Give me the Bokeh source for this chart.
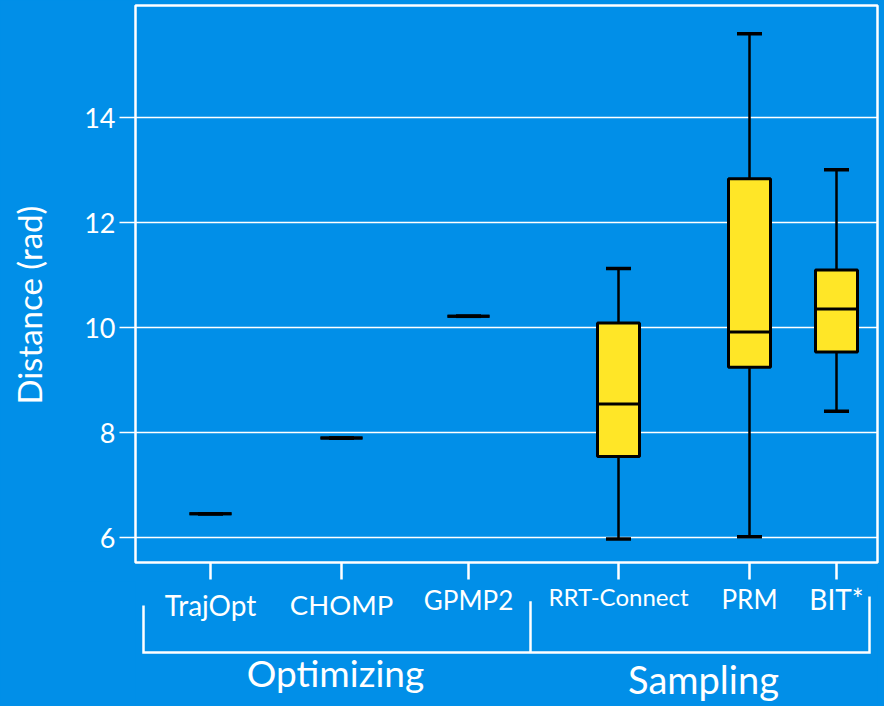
from bokeh.plotting import figure
from bokeh.layouts import column
from bokeh.models import Range1d, FixedTicker, ColumnDataSource
from bokeh.core.properties import value
from bokeh.embed import file_html
from bokeh.resources import INLINE

# ---- data ----
methods = ["TrajOpt", "CHOMP", "GPMP2", "RRT-Connect", "PRM", "BIT*"]
lower = [6.46, 7.90, 10.22, 5.98, 6.02, 8.41]
q1 = [6.46, 7.90, 10.22, 7.55, 9.25, 9.54]
median = [6.46, 7.90, 10.22, 8.55, 9.92, 10.36]
q3 = [6.46, 7.90, 10.22, 10.09, 12.84, 11.10]
upper = [6.46, 7.90, 10.22, 11.13, 15.60, 13.01]
groups = ["Optimizing", "Sampling"]
y_ticks = [6, 8, 10, 12, 14]
y_label = "Distance (rad)"

# ---- layout (positions / sizes, strip y in px from strip top) ----
xpos = [75, 206, 333, 483, 614, 701]
label_base = [23, 23, 18.5, 15, 17.5, 17]
label_size = ["28px", "27.5px", "26px", "24px", "26px", "28px"]
group_pos = [200, 568]
group_base = [91, 97.5]
group_size = ["37px", "38px"]
bracket_x = [8, 395, 734]
bracket_top = [24, 19.7, 15]
bracket_y = 71
box_w = 42
cap_w = 25

BG = "#018FE8"
YEL = "#FFE627"
FONT = "Lato"

xr = Range1d(0, 742)

p = figure(width=884, height=581, x_range=xr, y_range=Range1d(5.53, 16.14),
           output_backend="svg", toolbar_location=None,
           min_border_left=135, min_border_right=7, min_border_top=5, min_border_bottom=19)
p.background_fill_color = BG
p.border_fill_color = BG
p.outline_line_color = "white"
p.outline_line_width = 2.5

p.xgrid.visible = False
p.ygrid.ticker = FixedTicker(ticks=y_ticks)
p.ygrid.grid_line_color = "white"
p.ygrid.grid_line_width = 1.3

ya = p.yaxis[0]
ya.ticker = FixedTicker(ticks=y_ticks)
ya.axis_line_color = None
ya.major_tick_out = 16
ya.major_tick_in = 0
ya.major_tick_line_color = "white"
ya.major_tick_line_width = 1.3
ya.minor_tick_line_color = None
ya.major_label_text_color = "white"
ya.major_label_text_font = FONT
ya.major_label_text_font_size = "27px"
ya.major_label_standoff = 4
ya.axis_label = y_label + "\u00a0" * 5
ya.axis_label_text_color = "white"
ya.axis_label_text_font = FONT
ya.axis_label_text_font_size = "33px"
ya.axis_label_text_font_style = "normal"
ya.axis_label_standoff = 32

xa = p.xaxis[0]
xa.ticker = FixedTicker(ticks=xpos)
xa.major_label_overrides = {x: "" for x in xpos}
xa.major_label_text_font_size = "1px"
xa.major_label_standoff = 0
xa.axis_line_color = None
xa.major_tick_out = 17
xa.major_tick_in = 0
xa.major_tick_line_color = "white"
xa.major_tick_line_width = 2.5
xa.minor_tick_line_color = None

src = ColumnDataSource(dict(
    x=xpos, lower=lower, q1=q1, median=median, q3=q3, upper=upper,
    x0=[x - box_w / 2 for x in xpos], x1=[x + box_w / 2 for x in xpos],
    c0=[x - cap_w / 2 for x in xpos], c1=[x + cap_w / 2 for x in xpos],
))

p.segment(x0="x", y0="q3", x1="x", y1="upper", source=src, line_color="black", line_width=2.5)
p.segment(x0="x", y0="q1", x1="x", y1="lower", source=src, line_color="black", line_width=2.5)
p.segment(x0="c0", y0="upper", x1="c1", y1="upper", source=src, line_color="black", line_width=3.5)
p.segment(x0="c0", y0="lower", x1="c1", y1="lower", source=src, line_color="black", line_width=3.5)
p.vbar(x="x", width=box_w, top="q3", bottom="q1", source=src,
       fill_color=YEL, line_color="black", line_width=3)
p.segment(x0="x0", y0="median", x1="x1", y1="median", source=src, line_color="black", line_width=3)

# ---- bottom strip: category labels, group bracket, group labels ----
p2 = figure(width=884, height=125, x_range=xr, y_range=Range1d(125, 0),
            output_backend="svg", toolbar_location=None,
            x_axis_type=None, y_axis_type=None,
            min_border_left=135, min_border_right=7, min_border_top=0, min_border_bottom=0)
p2.background_fill_color = None
p2.border_fill_color = BG
p2.outline_line_color = None
p2.grid.visible = False

p2.text(x=xpos, y=label_base, text=methods, text_font=value(FONT), text_font_size=label_size,
        text_align="center", text_baseline="alphabetic", text_color="white")
p2.text(x=group_pos, y=group_base, text=groups, text_font=value(FONT), text_font_size=group_size,
        text_align="center", text_baseline="alphabetic", text_color="white")

p2.multi_line(xs=[[bracket_x[0], bracket_x[0], bracket_x[2], bracket_x[2]], [bracket_x[1], bracket_x[1]]],
              ys=[[bracket_top[0], bracket_y, bracket_y, bracket_top[2]], [bracket_y, bracket_top[1]]],
              line_color="white", line_width=2.5, line_join="miter")

layout = column(p, p2, spacing=0)
layout.styles = {"position": "absolute", "left": "0px", "top": "0px", "background-color": BG}

open("out.html", "w").write(file_html(layout, INLINE))
